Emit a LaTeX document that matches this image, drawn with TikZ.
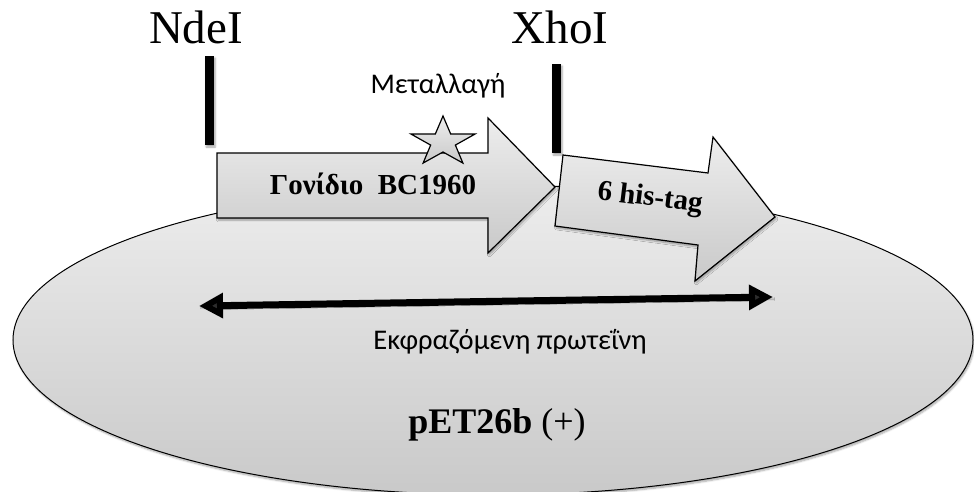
\documentclass[tikz,border=0pt]{standalone}
\usepackage{fontspec}
\setmainfont{Liberation Serif}
\newfontfamily\labelfont{Carlito}
\usetikzlibrary{arrows.meta,shadows.blur,shapes.geometric}

\definecolor{shapetop}{HTML}{EDEDED}
\definecolor{shapebot}{HTML}{C9C9C9}

\tikzset{
  softshadow/.style={blur shadow={shadow xshift=1.2pt,shadow yshift=-2pt,
      shadow blur steps=6,shadow opacity=35}},
  plate/.style={draw=black,line width=1pt,top color=shapetop,bottom color=shapebot,
      softshadow},
  genearrow/.style={plate,line width=1.2pt,line join=miter},
  sitebar/.style={fill=black,draw=none,softshadow},
  enzyme/.style={font=\fontsize{47}{50}\selectfont,anchor=base},
  boldlabel/.style={font=\fontsize{29}{31}\selectfont\bfseries},
  sanslabel/.style={font=\labelfont\fontsize{28.5}{30}\selectfont,anchor=base},
  span/.style={line width=7pt,{Triangle[length=24pt,width=24pt]}-{Triangle[length=24pt,width=24pt]}}
}

\begin{document}
\begin{tikzpicture}[x=1pt,y=-1pt]
\useasboundingbox (0,0) rectangle (974,492);

% plasmid vector
\node[plate,ellipse,minimum width=960pt,minimum height=310pt,inner sep=0pt]
  (vector) at (493,340) {};

% cloned gene
\draw[genearrow] (217,153) -- (488,153) -- (488,118) -- (555,187)
  -- (488,253) -- (488,218) -- (217,218) -- cycle;
\node[boldlabel] (gene) at (373,184) {Γονίδιο\ \ BC1960};

% C-terminal histidine tag
\draw[genearrow] (563,155) -- (708,173) -- (713,137) -- (775,217)
  -- (695,281) -- (698,245) -- (555,226) -- cycle;
\node[boldlabel,rotate=-7] (tag) at (650,199) {6 his-tag};

% restriction sites
\fill[sitebar] (205,56) rectangle (214,145);
\fill[sitebar] (552,64) rectangle (561,153);
\node[enzyme] (ndei) at (196,44) {NdeI};
\node[enzyme] (xhoi) at (560,44) {XhoI};

% point mutation: a five-pointed star, slightly widened
\begin{scope}[shift={(443,142)},xscale=1.3]
  \draw[line width=1.2pt,line join=miter,top color=shapetop,bottom color=shapebot]
    (-90:26) -- (-54:10) -- (-18:26) -- (18:10) -- (54:26) -- (90:10)
    -- (126:26) -- (162:10) -- (198:26) -- (234:10) -- cycle;
\end{scope}
\node[sanslabel] (mutlabel) at (438,94) {Μεταλλαγή};

% expressed protein span
\coordinate (pl) at (199,306);
\coordinate (pr) at (773,297);
\draw[span,softshadow] (pl) -- (pr);
\node[sanslabel] (protein) at (510,349) {Εκφραζόμενη πρωτεΐνη};

% vector name
\node[font=\fontsize{36}{38}\selectfont,anchor=base] (pet) at (497,433)
  {\textbf{pET26b} (+)};
\end{tikzpicture}
\end{document}
